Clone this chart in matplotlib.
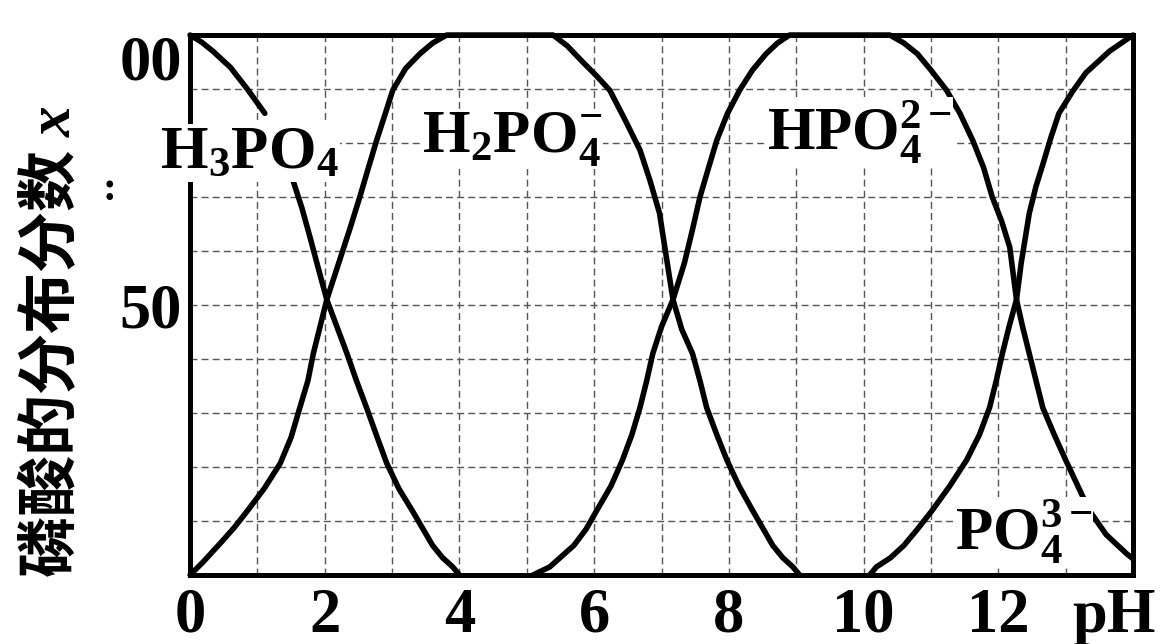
import numpy as np
import matplotlib
matplotlib.use('Agg')
import matplotlib.pyplot as plt

# Valores (pH, fracción en %)
ph_h3po4 = [0, 0.17, 0.34, 0.6, 0.85, 1.11, np.nan, 1.53, 1.66, 1.78, 1.9, 2.03, 2.18, 2.33, 2.47,
            2.62, 2.77, 2.92, 3.1, 3.31, 3.6, 3.75, 3.9, 4.0]
x_h3po4 = [100, 98.7, 97, 94, 90, 85.5, np.nan, 73, 68, 62.6, 57, 51, 46, 41, 36,
           31, 25.8, 20.7, 16, 11.7, 5.5, 3.2, 1.5, 0]

ph_h2po4 = [0, 0.2, 0.45, 0.65, 0.84, 1.1, 1.34, 1.5, 1.63, 1.75, 1.83, 1.93, 2.03, 2.2, 2.37,
            2.52, 2.65, 2.77, 2.9, 3.01, 3.2, 3.41, 3.6, 3.81,
            5.39, 5.6, 5.83, 6.03, 6.23, 6.45, 6.68, 6.83, 6.97, 7.07, 7.17, 7.3, 7.46, 7.57,
            7.67, 7.82, 7.97, 8.15, 8.35, 8.65, 8.8, 8.95, 9.05]
x_h2po4 = [0, 2.5, 5.9, 8.7, 11.7, 16, 20.7, 25.5, 31, 36, 41, 46, 51, 57.5, 64,
           70, 75.5, 80.5, 85.5, 89.8, 93.8, 96.5, 98.5, 100,
           100, 98, 95, 92.5, 89.8, 84.5, 78.7, 73, 67, 59, 51, 45.5, 41, 36,
           31, 26, 21.3, 16.5, 12, 5.5, 3.2, 1.5, 0]

ph_hpo4 = [5.09, 5.34, 5.7, 5.88, 6.04, 6.25, 6.42, 6.56, 6.68, 6.78, 6.87, 7.0, 7.17, 7.34, 7.46,
           7.57, 7.7, 7.82, 7.98, 8.16, 8.35, 8.55, 8.72, 8.9,
           10.39, 10.6, 10.8, 11.0, 11.23, 11.43, 11.62, 11.78, 11.91, 12.05, 12.17, 12.27, 12.36,
           12.46, 12.56, 12.66, 12.83, 13.0, 13.18, 13.35, 13.6, 13.9, 14.0]
x_hpo4 = [0, 1.5, 5.5, 8.5, 12, 16.5, 21.3, 26, 31, 36, 41, 46, 51, 57.8, 64,
          70, 75.5, 80.5, 85.5, 89.8, 93.5, 96.5, 98.5, 100,
          100, 98.5, 96.5, 93.5, 89.8, 85.5, 80.5, 75.5, 70, 65.5, 60.7, 51, 46,
          41, 36, 31, 26, 21.3, 16.5, 12, 7.5, 4, 3]

ph_po4 = [10.09, 10.19, 10.4, 10.6, 10.8, 11.02, 11.28, 11.53, 11.72, 11.87, 11.97, 12.06, 12.16,
          12.27, 12.34, 12.46, 12.56, 12.66, 12.78, 12.9, 13.1, 13.3, 13.65, 14.0]
x_po4 = [0, 1.5, 3.2, 5.5, 8.5, 12, 16.5, 21.3, 26, 31, 36, 41, 46,
         51, 57.8, 67, 72, 76, 81, 85.5, 89.5, 93, 97, 100]

xticks = [0, 2, 4, 6, 8, 10, 12]
xtick_labels = ['0', '2', '4', '6', '8', '10', '12']
yticks = [100, 50]
ytick_labels = ['00', '50']

# Etiquetas de las especies: (texto, pH, fracción)
especies = [
    (r'H$_3$PO$_4$', -0.45, 75.4),
    (r'H$_2$PO$_4^{-}$', 3.44, 78.3),
    (r'HPO$_4^{2-}$', 8.56, 78.7),
    (r'PO$_4^{3-}$', 11.35, 4.6),
]

plt.rcParams['mathtext.fontset'] = 'custom'
plt.rcParams['mathtext.rm'] = 'Liberation Serif:bold'
plt.rcParams['mathtext.it'] = 'Liberation Serif:italic:bold'
plt.rcParams['mathtext.bf'] = 'Liberation Serif:bold'

fig = plt.figure(figsize=(11.61, 6.44), dpi=100)
ax = fig.add_axes([0.1637, 0.1071, 0.8122, 0.8385])

# Cuadrícula
for v in range(1, 14):
    ax.axvline(v, color='#555555', lw=1, ls=(0, (5, 3)), zorder=0)
for h in range(10, 100, 10):
    ax.axhline(h, color='#555555', lw=1, ls=(0, (5, 3)), zorder=0)

# Curvas
for ph, frac in [(ph_h3po4, x_h3po4), (ph_h2po4, x_h2po4), (ph_hpo4, x_hpo4), (ph_po4, x_po4)]:
    ax.plot(ph, frac, color='black', lw=4, solid_capstyle='round', solid_joinstyle='round',
            clip_on=False, zorder=3)

for txt, px, py in especies:
    ax.text(px, py, txt, fontsize=44, fontfamily='Liberation Serif', fontweight='bold',
            ha='left', va='baseline', zorder=6, clip_on=False,
            bbox=dict(facecolor='white', edgecolor='none', pad=1))

ax.set_xlim(0, 14)
ax.set_ylim(0, 100)
for s in ax.spines.values():
    s.set_linewidth(3.6)
    s.set_zorder(5)

ax.set_xticks(xticks + [13.72], xtick_labels + ['pH'])
ax.set_yticks(yticks, ytick_labels)
ax.tick_params(axis='both', length=0, labelsize=45)
ax.tick_params(axis='x', pad=9)
ax.tick_params(axis='y', pad=6)
for lab in ax.get_xticklabels() + ax.get_yticklabels():
    lab.set_fontfamily('Liberation Serif')
    lab.set_fontweight('bold')
ax.get_yticklabels()[0].set_va('top')

fig.text(0.045, 0.47, '磷酸的分布分数 $x$', rotation=90, fontsize=44, fontweight='bold',
         family=['Noto Sans CJK SC', 'DejaVu Sans'], ha='center', va='center')
fig.text(110 / 1161, 1 - 190 / 644, ':', fontsize=30, fontweight='bold',
         family='Liberation Serif', ha='center', va='center')

fig.savefig('out.png', dpi=100)
